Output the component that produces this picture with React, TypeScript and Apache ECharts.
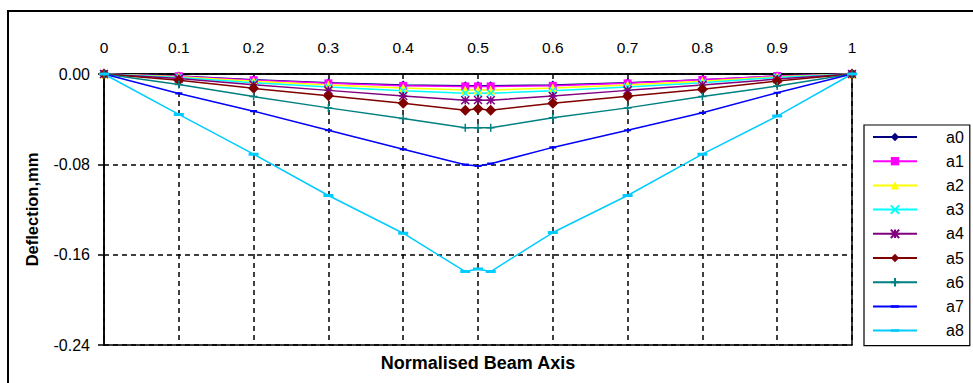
import React, { useEffect, useRef } from "react";
import * as echarts from "echarts";

const xPos = [0, 0.1, 0.2, 0.3, 0.4, 0.483, 0.5, 0.517, 0.6, 0.7, 0.8, 0.9, 1];
const seriesNames = ["a0", "a1", "a2", "a3", "a4", "a5", "a6", "a7", "a8"];
const a0 = [0, -0.0018, -0.005, -0.0078, -0.0098, -0.0104, -0.0104, -0.0104, -0.0098, -0.0078, -0.005, -0.0018, 0];
const a1 = [0, -0.002, -0.0055, -0.0083, -0.0105, -0.011, -0.011, -0.011, -0.0105, -0.0083, -0.0052, -0.0018, 0];
const a2 = [0, -0.0025, -0.0065, -0.0098, -0.0125, -0.0142, -0.014, -0.0142, -0.0125, -0.0098, -0.0065, -0.0025, 0];
const a3 = [0, -0.003, -0.0078, -0.0115, -0.0148, -0.017, -0.0168, -0.017, -0.0148, -0.0115, -0.0078, -0.003, 0];
const a4 = [0, -0.004, -0.0095, -0.0145, -0.0195, -0.0232, -0.023, -0.0232, -0.0195, -0.0145, -0.0098, -0.0045, 0];
const a5 = [0, -0.0056, -0.0127, -0.0193, -0.026, -0.032, -0.0308, -0.032, -0.026, -0.0196, -0.0136, -0.0062, 0];
const a6 = [0, -0.0092, -0.02, -0.03, -0.0394, -0.0477, -0.0477, -0.0477, -0.0388, -0.03, -0.02, -0.0107, 0];
const a7 = [0, -0.0172, -0.0329, -0.0498, -0.0667, -0.0803, -0.0815, -0.0794, -0.065, -0.0498, -0.0344, -0.0166, 0];
const a8 = [0, -0.0358, -0.071, -0.1076, -0.141, -0.175, -0.1727, -0.175, -0.1404, -0.1076, -0.071, -0.0373, 0];
const allSeries = [a0, a1, a2, a3, a4, a5, a6, a7, a8];

const colors = ["#000080", "#FF00FF", "#FFFF00", "#00FFFF", "#800080", "#800000", "#008080", "#0000FF", "#00CCFF"];

const FONT = "'Liberation Sans', Arial, sans-serif";

// flat "dash" marker inside a square bounding box (tiny corner specks keep the box square)
const DASH_PATH = "path://M0,0L0.01,0L0,0.01Z M0,3.5L10,3.5L10,6.5L0,6.5Z M10,10L9.99,10L10,9.99Z";

const markerDefs: any[] = [
  { symbol: "diamond", size: 9 },
  { symbol: "rect", size: 8 },
  { symbol: "triangle", size: 9 },
  { symbol: "path://M0,0L10,10M10,0L0,10", size: 7, stroke: true },
  { symbol: "path://M5,0L5,10M0,0L10,10M10,0L0,10M0,5L10,5", size: 8, stroke: true },
  { symbol: "diamond", size: 11 },
  { symbol: "path://M5,0L5,10M0,5L10,5", size: 8, stroke: true },
  { symbol: DASH_PATH, size: 7 },
  { symbol: DASH_PATH, size: 10 },
];

export default function App() {
  const ref = useRef<HTMLDivElement>(null);
  useEffect(() => {
    if (!ref.current) return;
    const chart = echarts.init(ref.current, undefined, { renderer: "svg" });
    const series = seriesNames.map((name, i) => {
      const m = markerDefs[i];
      return {
        name,
        type: "line",
        data: xPos.map((x, j) => [x, allSeries[i][j]]),
        symbol: m.symbol,
        symbolSize: m.size,
        showAllSymbol: true,
        lineStyle: { color: colors[i], width: 1.5 },
        itemStyle: m.stroke
          ? { color: colors[i], borderColor: colors[i], borderWidth: 1.5 }
          : { color: colors[i], borderWidth: 0 },
        emphasis: { disabled: true },
      };
    });
    chart.setOption({
      animation: false,
      backgroundColor: "#fff",
      textStyle: { fontFamily: FONT },
      grid: {
        left: 104,
        top: 74,
        right: 121,
        bottom: 38,
        show: true,
        borderColor: "#000",
        borderWidth: 1.5,
        backgroundColor: "#fff",
      },
      xAxis: {
        type: "value",
        position: "top",
        min: 0,
        max: 1,
        interval: 0.1,
        axisLine: { show: true, lineStyle: { color: "#000", width: 1.5 } },
        axisTick: { show: false },
        axisLabel: {
          color: "#000",
          fontSize: 15.5,
          fontFamily: FONT,
          margin: 19,
          formatter: (v: number) => String(+v.toFixed(1)),
        },
        splitLine: { show: true, lineStyle: { color: "#000", type: [5, 4], width: 1.5 } },
      },
      yAxis: {
        type: "value",
        min: -0.24,
        max: 0,
        interval: 0.08,
        name: "Deflection,mm",
        nameLocation: "middle",
        nameRotate: 90,
        nameGap: 64,
        nameTextStyle: { color: "#000", fontSize: 16.5, fontWeight: "bold", fontFamily: FONT },
        axisLine: { show: true, lineStyle: { color: "#000", width: 1.5 } },
        axisTick: { show: true, inside: false, length: 6, lineStyle: { color: "#000", width: 1.5 } },
        axisLabel: {
          color: "#000",
          fontSize: 16,
          fontFamily: FONT,
          margin: 14,
          formatter: (v: number) => v.toFixed(2),
        },
        splitLine: { show: true, lineStyle: { color: "#000", type: [5, 4], width: 1.5 } },
      },
      legend: {
        orient: "vertical",
        left: 864,
        top: 125,
        padding: [4, 6, 7, 8],
        itemWidth: 44,
        itemHeight: 10.5,
        itemGap: 8.2,
        borderColor: "#000",
        borderWidth: 1.2,
        backgroundColor: "#fff",
        selectedMode: false,
        textStyle: { color: "#000", fontSize: 16, fontFamily: FONT, padding: [0, 0, 0, 24] },
        data: seriesNames,
      },
      graphic: [
        {
          type: "rect",
          shape: { x: 8, y: 11, width: 990, height: 390 },
          style: { fill: "none", stroke: "#000", lineWidth: 2 },
          silent: true,
          z: 100,
        },
        {
          type: "text",
          x: 478,
          y: 363,
          style: {
            text: "Normalised Beam Axis",
            fill: "#000",
            font: `bold 18px ${FONT}`,
            textAlign: "center",
            textVerticalAlign: "middle",
          },
          silent: true,
        },
      ],
      series,
    });
    return () => chart.dispose();
  }, []);
  return <div ref={ref} style={{ position: "fixed", left: 0, top: 0, width: 973, height: 383 }} />;
}
